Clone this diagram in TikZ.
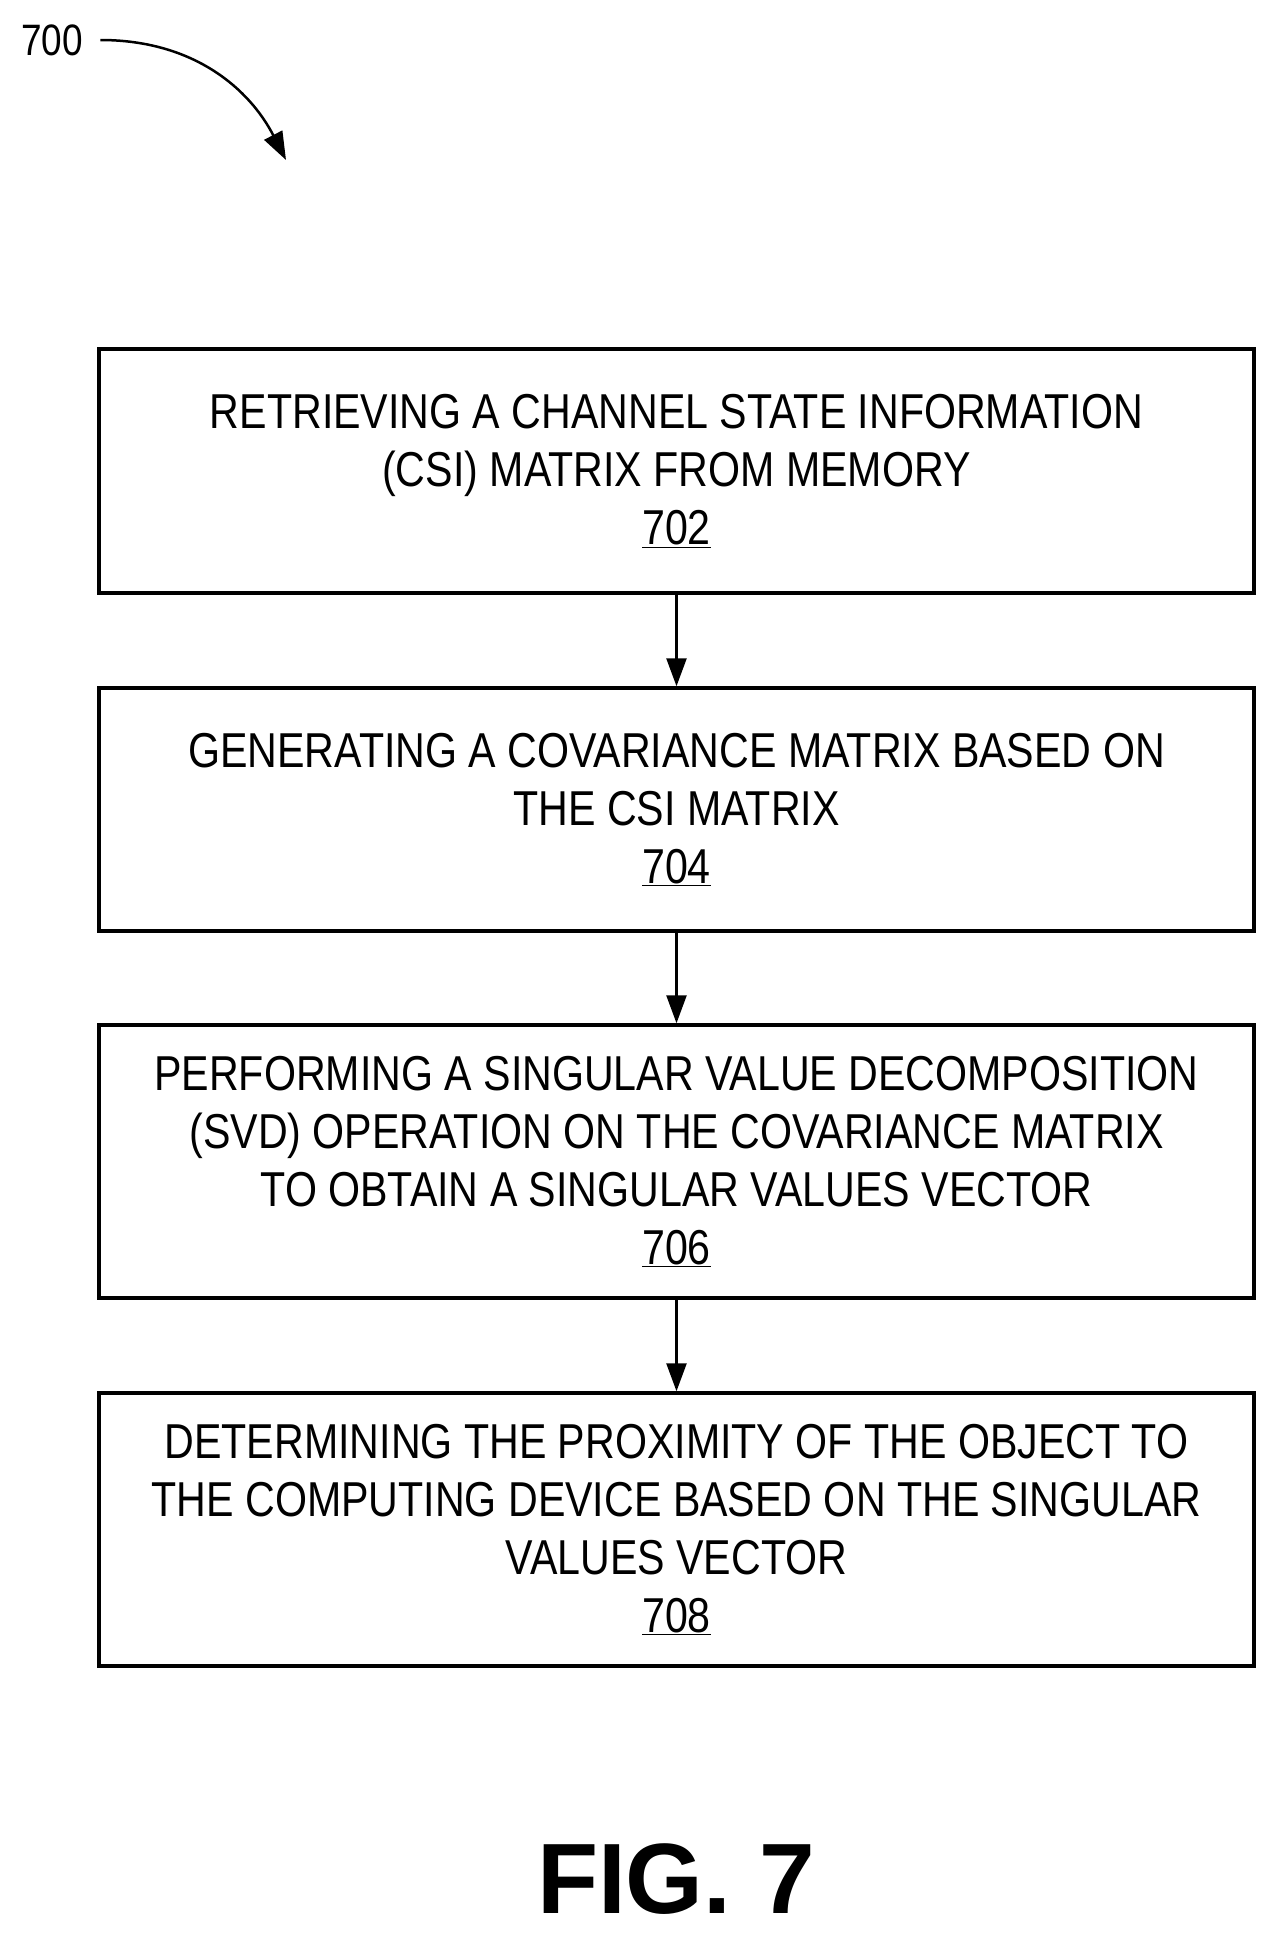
\documentclass[tikz,border=0pt]{standalone}
\usepackage{fontspec}
\setmainfont{Liberation Sans}[FakeStretch=0.84]
\newfontfamily\figfont{Liberation Sans}
\usetikzlibrary{arrows.meta}

\tikzset{
  stepbox/.style={draw, line width=3.5pt, minimum width=1155pt, align=center,
    font=\fontsize{49pt}{58pt}\selectfont},
  flow/.style={line width=2.5pt, -{Triangle[length=28pt,width=20pt]}}
}

\begin{document}
\begin{tikzpicture}[x=1pt, y=1pt]
	\useasboundingbox (0,0) rectangle (1273,-1933);

	% Label and pointer:
	\node[font=\fontsize{44pt}{50pt}\selectfont] (lbl) at (52,-40){700};
	\coordinate (tip) at (286,-160);
	\draw[flow] ([xshift=14pt]lbl.east) .. controls (195,-40) and (250,-90) .. (tip);

	% Steps:
	\node[stepbox, minimum height=244pt] (s702) at (676.5,-471){RETRIEVING A CHANNEL STATE INFORMATION\\(CSI) MATRIX FROM MEMORY\\\underline{702}};
	\node[stepbox, minimum height=243pt] (s704) at (676.5,-809.5){GENERATING A COVARIANCE MATRIX BASED ON\\THE CSI MATRIX\\\underline{704}};
	\node[stepbox, minimum height=273pt] (s706) at (676.5,-1161.5){PERFORMING A SINGULAR VALUE DECOMPOSITION\\(SVD) OPERATION ON THE COVARIANCE MATRIX\\TO OBTAIN A SINGULAR VALUES VECTOR\\\underline{706}};
	\node[stepbox, minimum height=273pt] (s708) at (676.5,-1529.5){DETERMINING THE PROXIMITY OF THE OBJECT TO\\THE COMPUTING DEVICE BASED ON THE SINGULAR\\VALUES VECTOR\\\underline{708}};

	\draw[flow] (s702) -- (s704);
	\draw[flow] (s704) -- (s706);
	\draw[flow] (s706) -- (s708);

	\node[font=\figfont\fontsize{100pt}{110pt}\selectfont\bfseries] (fig) at (676,-1879){FIG. 7};

\end{tikzpicture}
\end{document}
